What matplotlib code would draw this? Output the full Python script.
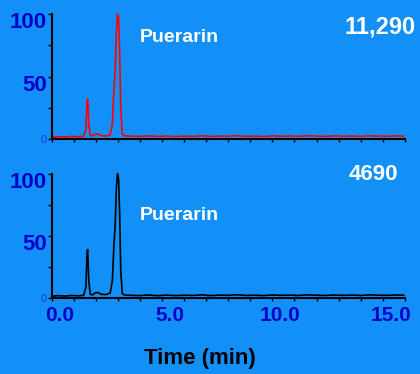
import matplotlib
matplotlib.use("Agg")
import matplotlib.pyplot as plt
import matplotlib.transforms as mtransforms

plt.rcParams['font.family'] = ['Liberation Sans', 'DejaVu Sans']

# retention time (min) and relative intensity (%)
time_top = [0.0, 0.3, 0.6, 0.9, 1.2, 1.45, 1.55, 1.6, 1.63, 1.68, 1.75, 1.85, 1.95, 2.1,
            2.25, 2.45, 2.65, 2.75, 2.82, 2.88, 2.93, 2.98, 3.03, 3.08, 3.13, 3.2, 3.3,
            3.6, 4.0, 4.4, 4.8, 5.2, 5.6, 6.0, 6.4, 6.8, 7.2, 7.6, 8.0, 8.4, 8.8, 9.2,
            9.6, 10.0, 10.4, 10.8, 11.2, 11.6, 12.0, 12.4, 12.8, 13.2, 13.6, 14.0, 14.4,
            14.8, 15.2, 15.6, 15.95]
int_top = [1.5, 2.0, 1.7, 2.2, 1.9, 2.3, 8.0, 30.0, 32.0, 12.0, 3.0, 2.6, 3.8, 4.2,
           2.8, 2.5, 3.5, 12.0, 40.0, 55.0, 85.0, 100.0, 97.0, 70.0, 25.0, 4.0, 2.6,
           2.4, 2.2, 2.6, 2.1, 2.5, 2.0, 2.4, 2.2, 2.7, 2.1, 2.5, 2.3, 2.8, 2.2, 2.4,
           2.1, 2.6, 2.3, 2.5, 2.2, 2.7, 2.4, 2.2, 2.6, 2.3, 2.5, 2.2, 2.7, 2.4, 2.3,
           2.6, 2.4]

time_bot = [0.0, 0.3, 0.6, 0.9, 1.2, 1.45, 1.55, 1.6, 1.63, 1.68, 1.75, 1.85, 1.95, 2.1,
            2.25, 2.45, 2.65, 2.75, 2.82, 2.88, 2.93, 2.98, 3.03, 3.08, 3.13, 3.2, 3.3,
            3.6, 4.0, 4.4, 4.8, 5.2, 5.6, 6.0, 6.4, 6.8, 7.2, 7.6, 8.0, 8.4, 8.8, 9.2,
            9.6, 10.0, 10.4, 10.8, 11.2, 11.6, 12.0, 12.4, 12.8, 13.2, 13.6, 14.0, 14.4,
            14.8, 15.2, 15.6, 15.95]
int_bot = [1.5, 2.0, 1.6, 2.1, 1.8, 2.2, 9.0, 36.0, 39.0, 14.0, 3.0, 2.5, 4.0, 4.5,
           3.0, 2.8, 4.0, 14.0, 42.0, 60.0, 88.0, 100.0, 96.0, 68.0, 22.0, 3.5, 2.4,
           2.2, 2.0, 2.5, 1.9, 2.4, 2.0, 2.3, 2.1, 2.6, 2.0, 2.4, 2.2, 2.7, 2.1, 2.3,
           2.0, 2.5, 2.2, 2.4, 2.1, 2.6, 2.3, 2.1, 2.5, 2.2, 2.4, 2.1, 2.6, 2.3, 2.2,
           2.5, 2.3]

panels = [(time_top, int_top, 'red', 0.816), (time_bot, int_bot, 'black', 0.667)]
x_labels = ['0.0', '5.0', '10.0', '15.0']

bg = '#1290F8'
dark_blue = '#0000CC'

fig = plt.figure(figsize=(4.2, 3.74), dpi=100, facecolor=bg)
ax_top = fig.add_axes([0.123, 0.628, 0.841, 0.334])
ax_bot = fig.add_axes([0.123, 0.203, 0.841, 0.333])

for ax, (t, y, col, name_y) in zip([ax_top, ax_bot], panels):
    ax.set_facecolor(bg)
    ax.plot(t, y, color=col, lw=1.2, clip_on=False)
    ax.set_xlim(0, 16)
    ax.set_ylim(0, 100)
    for s in ['top', 'right']:
        ax.spines[s].set_visible(False)
    for s in ['left', 'bottom']:
        ax.spines[s].set_linewidth(1.5)
        ax.spines[s].set_color('black')
    ax.set_yticks([0, 50, 100])
    ax.set_yticks([25, 75], minor=True)
    ax.set_yticklabels(['0', '50', '100'])
    ax.set_xticks(range(0, 17))
    ax.tick_params(axis='y', which='both', length=3, width=1, pad=0.5, color='black')
    ax.tick_params(axis='x', length=2.5, width=1, color='black')
    ylabs = ax.get_yticklabels()
    ylabs[0].set_fontsize(8)
    ylabs[0].set_color('#1438E6')
    for lab in ylabs[1:]:
        lab.set_fontsize(16)
        lab.set_fontweight('bold')
        lab.set_color(dark_blue)
        lab.set_transform(lab.get_transform() +
                          mtransforms.ScaledTranslation(0, -6 / 100, fig.dpi_scale_trans))
    ax.text(0.25, name_y, 'Puerarin', transform=ax.transAxes, color='white',
            fontsize=14, fontweight='bold', va='center', ha='left')

ax_top.text(1.03, 0.9, '11,290', transform=ax_top.transAxes, color='white',
            fontsize=17, fontweight='bold', va='center', ha='right')
ax_bot.text(0.98, 0.99, '4690', transform=ax_bot.transAxes, color='white',
            fontsize=16, fontweight='bold', va='center', ha='right')

ax_top.set_xticklabels([])
ax_bot.set_xticklabels([x_labels[i // 5] if i % 5 == 0 else '' for i in range(17)])
for lab in ax_bot.get_xticklabels():
    lab.set_fontsize(15)
    lab.set_fontweight('bold')
    lab.set_color(dark_blue)
    lab.set_transform(lab.get_transform() +
                      mtransforms.ScaledTranslation(8 / 100, 0, fig.dpi_scale_trans))
ax_bot.set_xlabel('Time (min)', fontsize=16, fontweight='bold', color='black', labelpad=18)
ax_bot.xaxis.set_label_coords(0.42, -0.4)

fig.savefig('out.png', dpi=100, facecolor=bg)
